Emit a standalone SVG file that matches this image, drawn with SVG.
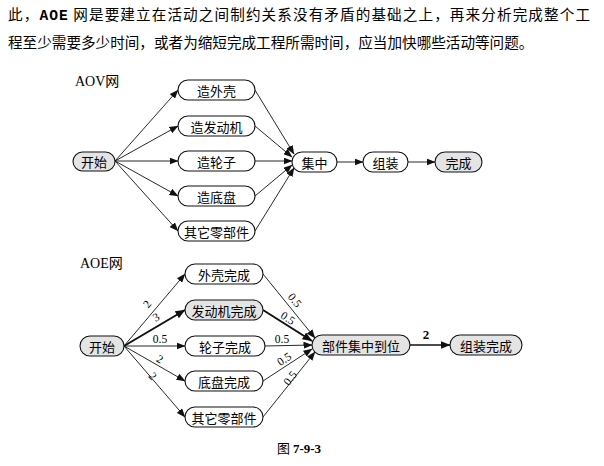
<svg xmlns="http://www.w3.org/2000/svg" width="604" height="466" viewBox="0 0 604 466">
<style>
.bg{fill:#ffffff}
.hd{font-family:"Noto Sans CJK SC","Noto Sans CJK JP",sans-serif;font-size:14.6px;fill:#000}
.lat{font-family:"Liberation Mono",monospace;font-weight:bold}
.ttl{font-family:"Liberation Serif","Noto Sans CJK SC",serif;font-size:14px;fill:#000}
.nd rect{stroke:#111;stroke-width:1.1;fill:#fff}
.nd.g rect{fill:#e4e4e4}
.nd text{font-family:"Noto Sans CJK SC","Noto Sans CJK JP",sans-serif;font-size:13px;fill:#000;text-anchor:middle;dominant-baseline:central}
.e{stroke:#111;stroke-width:0.9;fill:none;marker-end:url(#ah)}
.e.t{stroke-width:2;marker-end:url(#ahb)}
.lb{font-family:"Liberation Serif",serif;font-size:11.5px;fill:#000;text-anchor:middle;dominant-baseline:central}
.cap{font-family:"Noto Sans CJK SC","Liberation Serif",sans-serif;font-size:13px;fill:#000;text-anchor:middle}
</style>
<defs>
<marker id="ah" markerWidth="9" markerHeight="7" refX="8.5" refY="3.5" orient="auto" markerUnits="userSpaceOnUse"><path d="M0,0 L9,3.5 L0,7 Z" fill="#111"/></marker>
<marker id="ahb" markerWidth="10" markerHeight="8" refX="9.5" refY="4" orient="auto" markerUnits="userSpaceOnUse"><path d="M0,0 L10,4 L0,8 Z" fill="#111"/></marker>
</defs>
<rect class="bg" x="0" y="0" width="604" height="466"/>
<g id="header">
<text class="hd" x="8" y="20" textLength="582" lengthAdjust="spacing">此，<tspan class="lat">AOE</tspan> 网是要建立在活动之间制约关系没有矛盾的基础之上，再来分析完成整个工</text>
<text class="hd" x="8" y="48">程至少需要多少时间，或者为缩短完成工程所需时间，应当加快哪些活动等问题。</text>
</g>
<text class="ttl" x="75" y="86">AOV网</text>
<text class="ttl" x="80" y="268">AOE网</text>
<g id="connectors">
<path class="e" d="M115,161 L178,90"/>
<path class="e" d="M115,161 L178,126"/>
<path class="e" d="M115,161 L178,161"/>
<path class="e" d="M115,161 L178,196"/>
<path class="e" d="M115,161 L178,231"/>
<path class="e" d="M255,90 L294,154"/>
<path class="e" d="M255,126 L292,157"/>
<path class="e" d="M255,161 L292,161"/>
<path class="e" d="M255,196 L292,165"/>
<path class="e" d="M255,231 L294,168"/>
<path class="e" d="M337,162 L363,162"/>
<path class="e" d="M408,162 L435,162"/>
<path class="e" d="M124,346 L185,274"/>
<path class="e t" d="M124,346 L185,310"/>
<path class="e" d="M124,346 L185,346"/>
<path class="e" d="M124,346 L185,381"/>
<path class="e" d="M124,346 L185,417"/>
<path class="e" d="M263,274 L315,338"/>
<path class="e t" d="M263,310 L312,341"/>
<path class="e" d="M265,346 L312,345"/>
<path class="e" d="M263,381 L312,349"/>
<path class="e" d="M263,417 L315,352"/>
<path class="e t" d="M410,345 L450,345" style="stroke-width:1.5"/>
<text class="lb" transform="translate(147,304) rotate(-50)">2</text>
<text class="lb" transform="translate(156,317) rotate(-30)">3</text>
<text class="lb" x="160" y="339">0.5</text>
<text class="lb" transform="translate(160,359) rotate(30)">2</text>
<text class="lb" transform="translate(153,376) rotate(49)">2</text>
<text class="lb" transform="translate(295,300) rotate(51)">0.5</text>
<text class="lb" transform="translate(288,318) rotate(32)">0.5</text>
<text class="lb" x="282" y="339">0.5</text>
<text class="lb" transform="translate(284,359) rotate(-33)">0.5</text>
<text class="lb" transform="translate(290,378) rotate(-52)">0.5</text>
<text class="lb" x="426" y="334" style="font-size:13px;font-weight:bold">2</text>
</g>
<g id="aov-start" class="nd g"><rect x="73" y="152" width="42" height="19" rx="9.5"/><text x="94" y="161.5">开始</text></g>
<g id="aov-shell" class="nd"><rect x="178" y="80" width="77" height="20" rx="10"/><text x="216.5" y="90">造外壳</text></g>
<g id="aov-engine" class="nd"><rect x="178" y="116" width="77" height="20" rx="10"/><text x="216.5" y="126">造发动机</text></g>
<g id="aov-wheel" class="nd"><rect x="178" y="151" width="77" height="20" rx="10"/><text x="216.5" y="161">造轮子</text></g>
<g id="aov-chassis" class="nd"><rect x="178" y="186" width="77" height="20" rx="10"/><text x="216.5" y="196">造底盘</text></g>
<g id="aov-other" class="nd"><rect x="178" y="221" width="77" height="20" rx="10"/><text x="216.5" y="231">其它零部件</text></g>
<g id="aov-gather" class="nd"><rect x="292" y="152" width="45" height="20" rx="10"/><text x="314.5" y="162">集中</text></g>
<g id="aov-assemble" class="nd"><rect x="363" y="152" width="45" height="20" rx="10"/><text x="385.5" y="162">组装</text></g>
<g id="aov-done" class="nd g"><rect x="435" y="152" width="47" height="20" rx="10"/><text x="458.5" y="162">完成</text></g>
<g id="aoe-start" class="nd g"><rect x="80" y="336" width="44" height="20" rx="10"/><text x="102" y="346">开始</text></g>
<g id="aoe-shell" class="nd"><rect x="185" y="264" width="78" height="20" rx="10"/><text x="224" y="274">外壳完成</text></g>
<g id="aoe-engine" class="nd g"><rect x="185" y="300" width="78" height="20" rx="10"/><text x="224" y="310">发动机完成</text></g>
<g id="aoe-wheel" class="nd"><rect x="185" y="336" width="80" height="20" rx="10"/><text x="225" y="346">轮子完成</text></g>
<g id="aoe-chassis" class="nd"><rect x="185" y="371" width="78" height="20" rx="10"/><text x="224" y="381">底盘完成</text></g>
<g id="aoe-other" class="nd"><rect x="185" y="407" width="78" height="20" rx="10"/><text x="224" y="417">其它零部件</text></g>
<g id="aoe-gather" class="nd g"><rect x="312" y="335" width="98" height="20" rx="10"/><text x="361" y="345">部件集中到位</text></g>
<g id="aoe-assemble" class="nd g"><rect x="450" y="335" width="72" height="20" rx="10"/><text x="486" y="345">组装完成</text></g>
<text class="cap" x="299" y="453">图 <tspan style="font-family:'Liberation Serif',serif;font-weight:bold">7-9-3</tspan></text>
</svg>
